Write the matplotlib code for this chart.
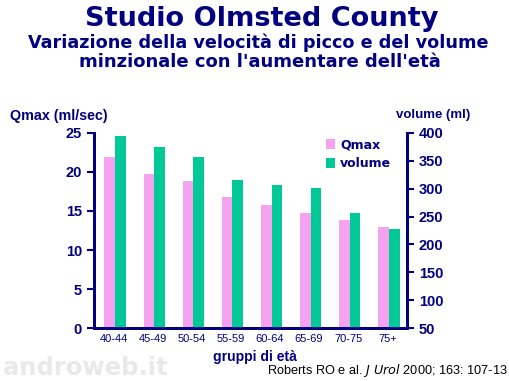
import numpy as np
import matplotlib.pyplot as plt

gruppi = ["40-44", "45-49", "50-54", "55-59", "60-64", "65-69", "70-75", "75+"]
qmax = [21.9, 19.8, 18.9, 16.8, 15.8, 14.8, 13.8, 12.9]
volume = [395, 375, 356, 316, 306, 301, 256, 227]

navy = "#000080"
pink = "#f5a3f0"
green = "#00c896"
heavy = ['DejaVu Sans']

plt.rcParams['font.family'] = ['Liberation Sans', 'DejaVu Sans']

fig = plt.figure(figsize=(5.1, 3.81), dpi=100)
ax1 = fig.add_axes([0.184, 0.139, 0.614, 0.512])
ax2 = ax1.twinx()

x = np.arange(len(gruppi))
w = 0.27
ax1.bar(x - w / 2 + 0.04, qmax, w, color=pink, label="Qmax", zorder=2)
ax2.bar(x + w / 2 + 0.04, volume, w, color=green, label="volume", zorder=2)

ax1.set_xlim(-0.5, 7.5)
ax1.set_ylim(0, 25)
ax2.set_ylim(50, 400)
ax1.set_yticks(range(0, 26, 5))
ax2.set_yticks(range(50, 401, 50))
ax1.set_xticks(x)
ax1.set_xticklabels(gruppi, fontsize=8, color=navy)

for ax in (ax1, ax2):
    ax.spines['top'].set_visible(False)
    for s in ('left', 'right', 'bottom'):
        ax.spines[s].set_color(navy)
        ax.spines[s].set_linewidth(2)
    ax.tick_params(axis='y', colors=navy, width=1.5, length=5, labelsize=10.5)
    for t in ax.get_yticklabels():
        t.set_fontweight('bold')
ax1.tick_params(axis='x', length=0, pad=4)

h1, l1 = ax1.get_legend_handles_labels()
h2, l2 = ax2.get_legend_handles_labels()
leg = ax2.legend(h1 + h2, l1 + l2, loc='upper left', bbox_to_anchor=(0.72, 1.005),
                 frameon=False, borderpad=0, handlelength=0.75, handleheight=0.85,
                 handletextpad=0.4, labelspacing=0.45,
                 prop={'family': heavy, 'weight': 'bold', 'size': 9})
for t in leg.get_texts():
    t.set_color(navy)

fig.text(0.514, 0.95, "Studio Olmsted County", ha='center', va='center',
         family=heavy, fontsize=19.5, fontweight='bold', color=navy)
fig.text(0.506, 0.889, "Variazione della velocità di picco e del volume", ha='center', va='center',
         family=heavy, fontsize=12.7, fontweight='bold', color=navy)
fig.text(0.509, 0.837, "minzionale con l'aumentare dell'età", ha='center', va='center',
         family=heavy, fontsize=13.0, fontweight='bold', color=navy)

fig.text(0.02, 0.695, "Qmax (ml/sec)", ha='left', va='center', fontsize=10.3,
         fontweight='bold', color=navy)
fig.text(0.922, 0.698, "volume (ml)", ha='right', va='center', fontsize=9.5,
         fontweight='bold', color=navy)
fig.text(0.5, 0.063, "gruppi di età", ha='center', va='center', fontsize=10,
         fontweight='bold', color=navy)
fig.text(0.995, 0.027, "Roberts RO e al. $\\it{J\\ Urol}$ 2000; 163: 107-13", ha='right',
         va='center', fontsize=9.2, color='black')
fig.text(0.005, 0.035, "androweb.it", ha='left', va='center', fontsize=17.5,
         family=heavy, fontweight='bold', color='#e9e9e9', zorder=0)

fig.savefig("out.png", dpi=100)
